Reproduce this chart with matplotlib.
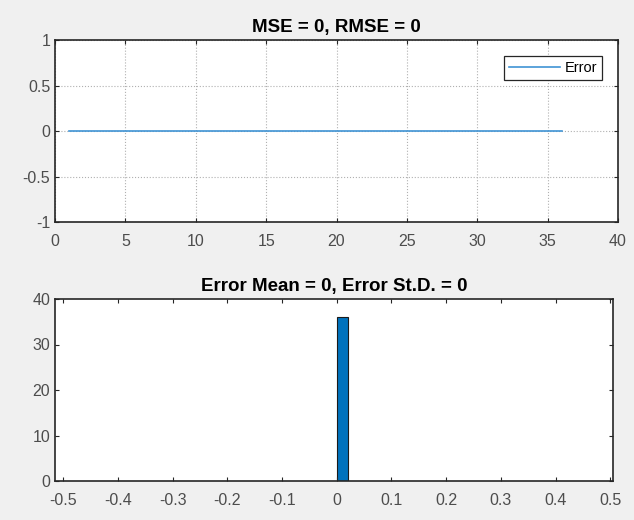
import numpy as np
import matplotlib.pyplot as plt

plt.rcParams['font.family'] = ['Liberation Sans', 'DejaVu Sans']
plt.rcParams['axes.unicode_minus'] = False

# data: error of 36 samples, all zero
samples = np.arange(1, 37)
errors = np.zeros(36)
hist_edges = [0, 0.02]

top_xticks = [0, 5, 10, 15, 20, 25, 30, 35, 40]
top_yticks = [-1, -0.5, 0, 0.5, 1]
bot_xticks = [-0.5, -0.4, -0.3, -0.2, -0.1, 0, 0.1, 0.2, 0.3, 0.4, 0.5]
bot_yticks = [0, 10, 20, 30, 40]

fig = plt.figure(figsize=(6.34, 5.2), dpi=100)
fig.patch.set_facecolor('#f0f0f0')

ax1 = fig.add_axes([0.0868, 0.573, 0.888, 0.350])
ax2 = fig.add_axes([0.0868, 0.075, 0.880, 0.350])

def style(ax):
    for s in ax.spines.values():
        s.set_color('#262626')
        s.set_linewidth(1.2)
    ax.tick_params(direction='in', top=True, right=True, length=3,
                   colors='#262626', labelcolor='#4d4d4d', labelsize=11.5)
    ax.tick_params(axis='x', pad=8.5)
    ax.tick_params(axis='y', pad=3.5)

# top: error line
ax1.plot(samples, errors, color='#3f93d4', linewidth=1.2, label='Error')
ax1.set_xlim(0, 40)
ax1.set_ylim(-1, 1)
ax1.set_xticks(top_xticks)
ax1.set_yticks(top_yticks)
ax1.set_yticklabels(['-1', '-0.5', '0', '0.5', '1'])
ax1.grid(True, linestyle=':', color='#b0b0b0', linewidth=0.8)
ax1.set_title('MSE = 0, RMSE = 0', fontsize=13.5, fontweight='bold', pad=6)
leg = ax1.legend(loc='upper right', fontsize=10.5, handlelength=3.5,
                 fancybox=False, framealpha=1, borderaxespad=1.1,
                 handletextpad=0.3, borderpad=0.35)
leg.get_frame().set_edgecolor('#262626')
leg.get_frame().set_linewidth(0.9)
style(ax1)

# bottom: histogram of errors
ax2.hist(errors, bins=hist_edges, color='#0072bd', edgecolor='#1a1a1a', linewidth=0.8)
ax2.set_xlim(-0.515, 0.505)
ax2.set_ylim(0, 40)
ax2.set_xticks(bot_xticks)
ax2.set_xticklabels(['-0.5', '-0.4', '-0.3', '-0.2', '-0.1', '0', '0.1', '0.2', '0.3', '0.4', '0.5'])
ax2.set_yticks(bot_yticks)
ax2.set_title('Error Mean = 0, Error St.D. = 0', fontsize=13.5, fontweight='bold', pad=6)
style(ax2)

fig.savefig('out.png', dpi=100, facecolor=fig.get_facecolor())
